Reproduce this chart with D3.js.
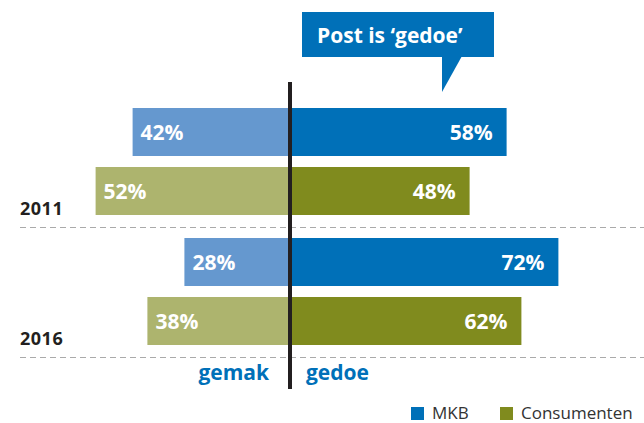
<!DOCTYPE html>
<html>
<head>
<meta charset="utf-8">
<script src="https://cdn.jsdelivr.net/npm/d3@7"></script>
<style>
  body { margin: 0; background: #fff; }
  svg { display: block; font-family: "Open Sans", "Noto Sans", sans-serif; }
</style>
</head>
<body>
<svg id="grafiek" width="644" height="423"></svg>
<script>
// data
const jaren = ["2011", "2016"];
const reeksen = ["MKB", "Consumenten"];
const gemakMKB = [42, 28];
const gedoeMKB = [58, 72];
const gemakConsumenten = [52, 38];
const gedoeConsumenten = [48, 62];

const kleuren = {
    MKB: {gedoe: "#0070b8", gemak: "#6598cf"},
    Consumenten: {gedoe: "#808b1e", gemak: "#adb46e"}
};

let balken = [];
jaren.forEach((jaar, i) => {
    balken.push({jaar: jaar, reeks: "MKB", gemak: gemakMKB[i], gedoe: gedoeMKB[i]});
    balken.push({jaar: jaar, reeks: "Consumenten", gemak: gemakConsumenten[i], gedoe: gedoeConsumenten[i]});
});

const svg = d3.select("#grafiek");

const yJaar = d3.scaleBand().domain(jaren).range([108, 368]);
const yReeks = d3.scaleBand().domain(reeksen).range([0, 107]).paddingInner(0.1864);
const xRechts = d3.scaleLinear().domain([0, 100]).range([292, 662]);
const xLinks = d3.scaleLinear().domain([0, 100]).range([288, -82]);

// stippellijnen
svg.selectAll(".stippel")
    .data(jaren)
    .enter()
    .append("line")
    .attr("x1", 20)
    .attr("x2", 644)
    .attr("y1", d => yJaar(d) + 119.5)
    .attr("y2", d => yJaar(d) + 119.5)
    .style("stroke", "#aaaaaa")
    .style("stroke-width", 1)
    .style("stroke-dasharray", "6,4");

// jaartallen
svg.selectAll(".jaar")
    .data(jaren)
    .enter()
    .append("text")
    .text(d => d)
    .attr("x", 20)
    .attr("y", d => yJaar(d) + 107)
    .style("font-size", "18px")
    .style("font-weight", "bold")
    .style("letter-spacing", "0.5px")
    .style("fill", "#231f20");

const y = d => yJaar(d.jaar) + yReeks(d.reeks);

// gemak (links)
svg.selectAll(".gemak")
    .data(balken)
    .enter()
    .append("rect")
    .attr("x", d => xLinks(d.gemak))
    .attr("y", y)
    .attr("width", d => xLinks(0) - xLinks(d.gemak))
    .attr("height", yReeks.bandwidth())
    .style("fill", d => kleuren[d.reeks].gemak);

// gedoe (rechts)
svg.selectAll(".gedoe")
    .data(balken)
    .enter()
    .append("rect")
    .attr("x", xRechts(0))
    .attr("y", y)
    .attr("width", d => xRechts(d.gedoe) - xRechts(0))
    .attr("height", yReeks.bandwidth())
    .style("fill", d => kleuren[d.reeks].gedoe);

svg.selectAll(".labelLinks")
    .data(balken)
    .enter()
    .append("text")
    .text(d => d.gemak + "%")
    .attr("x", d => xLinks(d.gemak) + 8)
    .attr("y", d => y(d) + yReeks.bandwidth() / 2 + 8)
    .style("font-size", "21px")
    .style("font-weight", "bold")
    .style("fill", "#fff");

svg.selectAll(".labelRechts")
    .data(balken)
    .enter()
    .append("text")
    .text(d => d.gedoe + "%")
    .attr("x", d => xRechts(d.gedoe) - 14)
    .attr("y", d => y(d) + yReeks.bandwidth() / 2 + 8)
    .attr("text-anchor", "end")
    .style("font-size", "21px")
    .style("font-weight", "bold")
    .style("fill", "#fff");

// middenlijn
svg.append("line")
    .attr("x1", 290).attr("x2", 290)
    .attr("y1", 82).attr("y2", 389)
    .style("stroke", "#231f20")
    .style("stroke-width", 4);

svg.append("text")
    .text("gemak")
    .attr("x", 269).attr("y", 380)
    .attr("text-anchor", "end")
    .style("font-size", "21px")
    .style("font-weight", "bold")
    .style("fill", "#0070b8");

svg.append("text")
    .text("gedoe")
    .attr("x", 306).attr("y", 380)
    .style("font-size", "21px")
    .style("font-weight", "bold")
    .style("fill", "#0070b8");

// ballon
svg.append("rect")
    .attr("x", 302).attr("y", 12)
    .attr("width", 192).attr("height", 45)
    .style("fill", "#0070b8");
svg.append("polygon")
    .attr("points", "442,56 462,56 442,92")
    .style("fill", "#0070b8");
svg.append("text")
    .text("Post is ‘gedoe’")
    .attr("x", 317).attr("y", 43)
    .style("font-size", "21px")
    .style("font-weight", "bold")
    .style("fill", "#fff");

// legenda
const legX = [411, 500];
svg.selectAll(".legBlok")
    .data(reeksen)
    .enter()
    .append("rect")
    .attr("x", (d, i) => legX[i])
    .attr("y", 407)
    .attr("width", 13)
    .attr("height", 13)
    .style("fill", d => kleuren[d].gedoe);

svg.selectAll(".legTekst")
    .data(reeksen)
    .enter()
    .append("text")
    .text(d => d)
    .attr("x", (d, i) => legX[i] + 21)
    .attr("y", 419)
    .style("font-size", "17px")
    .style("fill", "#333");
</script>
</body>
</html>
